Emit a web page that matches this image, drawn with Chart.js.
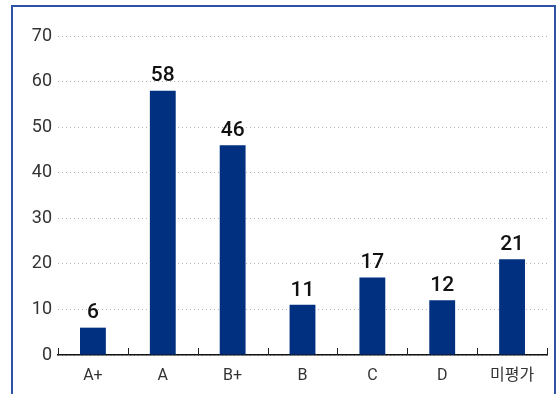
<!DOCTYPE html>
<html>
<head>
<meta charset="utf-8">
<script src="https://cdn.jsdelivr.net/npm/chart.js@4"></script>
<style>
  html, body { margin: 0; padding: 0; background: #fff; overflow: hidden; }
  #wrap { position: relative; width: 559px; height: 394px; }
  #frame { position: absolute; left: 11px; top: 5px; width: 545px; height: 400px;
           border: 2px solid #2f52a4; box-sizing: border-box; }
  canvas { position: absolute; left: 0; top: 0; }
</style>
</head>
<body>
<div id="wrap">
  <div id="frame"></div>
  <canvas id="gradeChart" width="559" height="394"></canvas>
</div>
<script>
const grades = ['A+', 'A', 'B+', 'B', 'C', 'D', '미평가'];
const counts = [6, 58, 46, 11, 17, 12, 21];
const yTicks = [0, 10, 20, 30, 40, 50, 60, 70];

// value labels above each bar + upward tick marks between categories
const barLabels = {
    id: 'barLabels',
    afterDatasetsDraw(chart) {
        const ctx = chart.ctx;
        const meta = chart.getDatasetMeta(0);
        const xs = chart.scales.x;
        ctx.save();
        ctx.strokeStyle = '#222';
        ctx.lineWidth = 1;
        for (let i = 0; i <= grades.length; i++) {
            const x = Math.round(xs.getPixelForValue(i - 0.5)) + 0.5;
            ctx.beginPath();
            ctx.moveTo(x, xs.top);
            ctx.lineTo(x, xs.top - 7);
            ctx.stroke();
        }
        ctx.font = '500 21px Roboto, "Noto Sans", sans-serif';
        ctx.fillStyle = '#111';
        ctx.textAlign = 'center';
        ctx.textBaseline = 'bottom';
        meta.data.forEach((bar, i) => {
            ctx.fillText(counts[i], bar.x, bar.y - 4);
        });
        ctx.restore();
    }
};

const ctx = document.getElementById('gradeChart').getContext('2d');
new Chart(ctx, {
    type: 'bar',
    data: {
        labels: grades,
        datasets: [{
            data: counts,
            backgroundColor: '#00307f',
            borderWidth: 0,
            categoryPercentage: 1,
            barPercentage: 0.37
        }]
    },
    options: {
        responsive: false,
        animation: false,
        layout: { padding: { left: 0, right: 12, top: 36, bottom: 0 } },
        plugins: {
            legend: { display: false },
            tooltip: { enabled: false }
        },
        scales: {
            x: {
                afterFit: s => { s.height = 39; },
                grid: { display: false },
                border: { display: true, color: '#111', width: 1.5 },
                ticks: {
                    padding: 3,
                    color: '#333',
                    font: { family: 'Roboto, "Noto Sans CJK KR", sans-serif', size: 16 }
                }
            },
            y: {
                min: 0,
                max: 70,
                afterFit: s => { s.width = 58; },
                afterBuildTicks: s => { s.ticks = yTicks.map(v => ({ value: v })); },
                grid: {
                    drawTicks: false,
                    color: '#b4b4b4',
                    lineWidth: 1
                },
                border: { display: false, dash: [1, 3] },
                ticks: {
                    padding: 6,
                    color: '#333',
                    font: { family: 'Roboto, sans-serif', size: 18 }
                }
            }
        }
    },
    plugins: [barLabels]
});
</script>
</body>
</html>
